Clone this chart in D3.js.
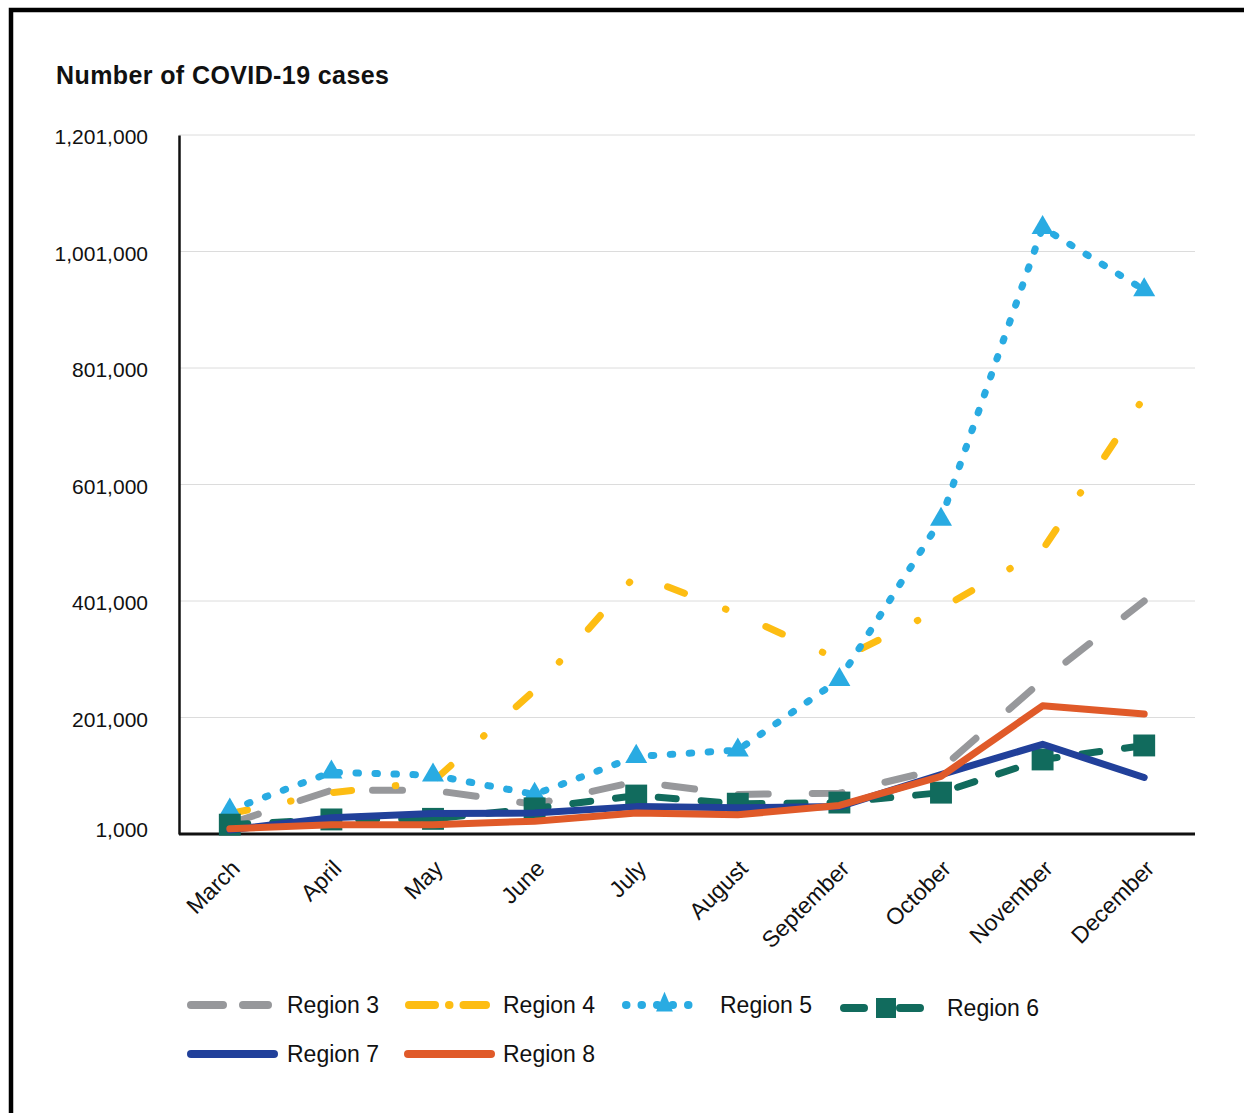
<!DOCTYPE html>
<html>
<head>
<meta charset="utf-8">
<script src="https://cdn.jsdelivr.net/npm/d3@7"></script>
<style>
  html, body { margin: 0; padding: 0; background: #fff; }
  svg { display: block; }
  text { font-family: "Liberation Sans", Arial, sans-serif; fill: #111; }
</style>
</head>
<body>
<svg id="chart" width="1244" height="1113"></svg>
<script>
// Monthly COVID-19 case counts by region
const months = ["March", "April", "May", "June", "July", "August", "September", "October", "November", "December"];
const region3 = [19000, 76000, 76000, 52000, 91000, 69000, 71000, 113000, 265000, 401000];
const region4 = [36000, 72000, 91000, 248000, 446000, 379000, 300000, 388000, 489000, 751000];
const region5 = [42000, 107000, 102000, 69000, 134000, 145000, 266000, 541000, 1042000, 935000];
const region6 = [17000, 26000, 27000, 45000, 67000, 53000, 55000, 72000, 129000, 153000];
const region7 = [8000, 29000, 36000, 37000, 48000, 46000, 48000, 103000, 155000, 98000];
const region8 = [10000, 17000, 17000, 23000, 37000, 34000, 50000, 100000, 221000, 207000];
const seriesNames = ["Region 3", "Region 4", "Region 5", "Region 6", "Region 7", "Region 8"];
const yTicks = [1000, 201000, 401000, 601000, 801000, 1001000, 1201000];

const styles = [
  { color: "#97989b", dash: "30,44", marker: null },
  { color: "#fdbd13", dash: "18,44,0.5,43.5", marker: null },
  { color: "#29abe2", dash: "2.5,16.5", marker: "triangle" },
  { color: "#116b5d", dash: "18,25", marker: "square" },
  { color: "#21409a", dash: null, marker: null },
  { color: "#e05a29", dash: null, marker: null }
];
const allValues = [region3, region4, region5, region6, region7, region8];

const svg = d3.select("#chart");

// frame
svg.append("path")
  .attr("d", "M11,1113 V10 H1244")
  .attr("fill", "none").attr("stroke", "#000").attr("stroke-width", 4.5);

// title
svg.append("text")
  .attr("x", 56).attr("y", 84)
  .attr("font-size", 25).attr("font-weight", "bold")
  .attr("letter-spacing", 0.4)
  .text("Number of COVID-19 cases");

const x = d3.scalePoint().domain(months).range([179, 1195]).padding(0.5);
const y = d3.scaleLinear().domain([1000, 1201000]).range([834, 135]);

// gridlines
svg.append("g")
  .selectAll("line").data(yTicks.slice(1)).join("line")
  .attr("x1", 179).attr("x2", 1195)
  .attr("y1", d => y(d)).attr("y2", d => y(d))
  .attr("stroke", "#dcdcdc").attr("stroke-width", 1);

// y axis
const yAxis = svg.append("g")
  .attr("transform", "translate(179,0)")
  .call(d3.axisLeft(y).tickValues(yTicks).tickFormat(d3.format(",")).tickSize(0).tickPadding(31));
yAxis.select(".domain").attr("stroke", "#111").attr("stroke-width", 2.5);
yAxis.selectAll("text")
  .attr("font-size", 21).attr("font-family", "Liberation Sans, Arial, sans-serif").attr("fill", "#111")
  .attr("dy", (d, i) => i === 0 ? "0.1em" : "0.42em");

// x axis
const xAxis = svg.append("g")
  .attr("transform", "translate(0,834)")
  .call(d3.axisBottom(x).tickSize(0).tickSizeOuter(0));
xAxis.select(".domain").attr("stroke", "#111").attr("stroke-width", 3)
  .attr("d", "M179,0H1195");
xAxis.selectAll("text")
  .attr("font-size", 23).attr("font-family", "Liberation Sans, Arial, sans-serif").attr("fill", "#111")
  .attr("text-anchor", "end")
  .attr("dy", null).attr("y", null)
  .attr("transform", "translate(11,36) rotate(-45)");

// series
const line = d3.line().x((d, i) => x(months[i])).y(d => y(d));
const plot = svg.append("g");
allValues.forEach((vals, k) => {
  const st = styles[k];
  plot.append("path")
    .datum(vals)
    .attr("d", line)
    .attr("fill", "none")
    .attr("stroke", st.color)
    .attr("stroke-width", 7)
    .attr("stroke-linecap", "round")
    .attr("stroke-linejoin", "round")
    .attr("stroke-dasharray", st.dash);
  if (st.marker) {
    const sym = st.marker === "triangle"
      ? d3.symbol(d3.symbolTriangle, 210)
      : d3.symbol(d3.symbolSquare, 480);
    plot.append("g").selectAll("path").data(vals).join("path")
      .attr("d", sym)
      .attr("transform", (d, i) => `translate(${x(months[i])},${y(d)})`)
      .attr("fill", st.color);
  }
});

// legend
const legendPos = [
  { x: 187, y: 1005, len: 85, tx: 287 },
  { x: 405, y: 1005, len: 85, tx: 503 },
  { x: 622, y: 1005, len: 85, tx: 720 },
  { x: 840, y: 1008, len: 92, tx: 947 },
  { x: 187, y: 1054, len: 91, tx: 287 },
  { x: 404, y: 1054, len: 91, tx: 503 }
];
const legendDash = ["32,20", "26,14,0.5,14", "0.5,15", "20,36", null, null];
const legend = svg.append("g");
seriesNames.forEach((name, k) => {
  const p = legendPos[k], st = styles[k];
  const g = legend.append("g").attr("transform", `translate(${p.x},${p.y})`);
  g.append("line")
    .attr("x1", 4).attr("x2", p.len - 4).attr("y1", 0).attr("y2", 0)
    .attr("stroke", st.color).attr("stroke-width", 8)
    .attr("stroke-linecap", "round")
    .attr("stroke-dasharray", legendDash[k]);
  if (st.marker === "triangle") {
    g.append("path").attr("d", d3.symbol(d3.symbolTriangle, 170)())
      .attr("transform", `translate(${p.len / 2},0) scale(0.85,1.15)`).attr("fill", st.color);
  } else if (st.marker === "square") {
    g.append("path").attr("d", d3.symbol(d3.symbolSquare, 400)())
      .attr("transform", `translate(${p.len / 2},0)`).attr("fill", st.color);
  }
  legend.append("text")
    .attr("x", p.tx).attr("y", p.y + 8)
    .attr("font-size", 23)
    .text(name);
});
</script>
</body>
</html>
